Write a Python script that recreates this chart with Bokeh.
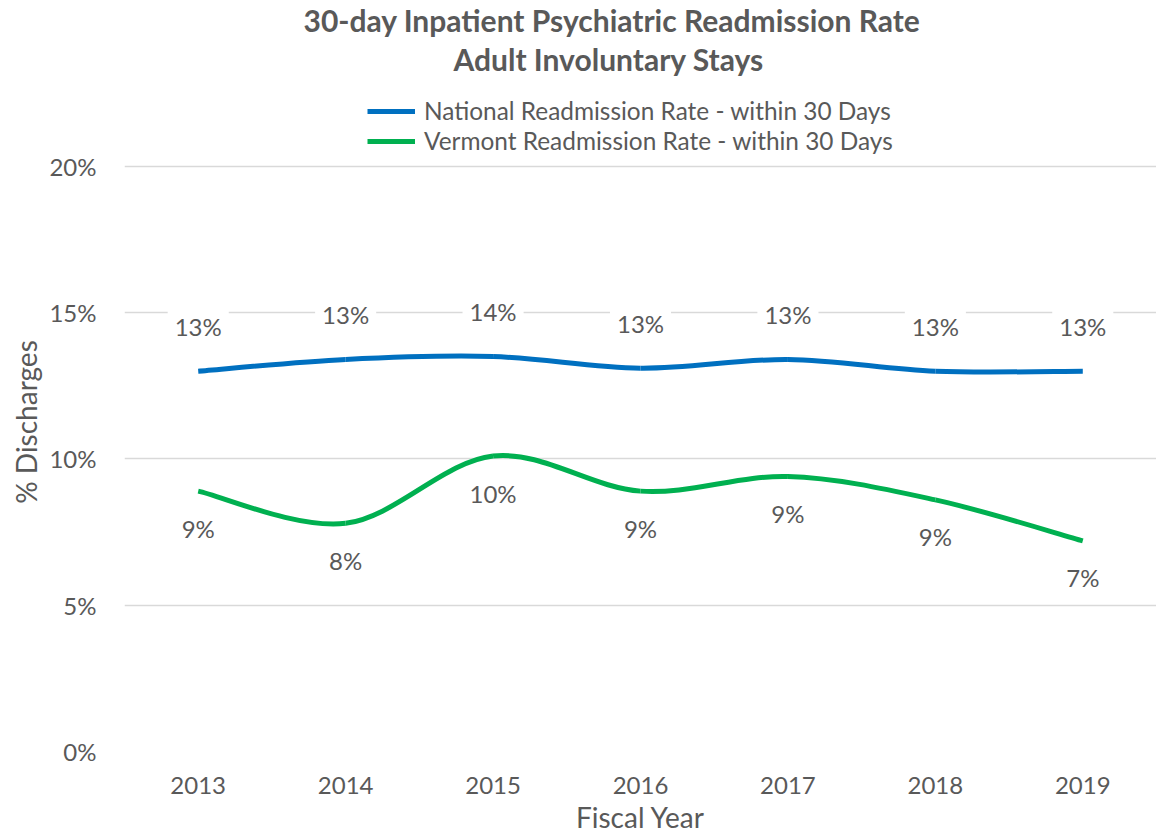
import numpy as np
from bokeh.plotting import figure
from bokeh.models import (Range1d, FixedTicker, PrintfTickFormatter, ColumnDataSource,
                          Legend, LegendItem, Title)
from bokeh.embed import file_html
from bokeh.resources import INLINE

# ---------------- data ----------------
years = [2013, 2014, 2015, 2016, 2017, 2018, 2019]
national = [13.0, 13.4, 13.5, 13.1, 13.4, 13.0, 13.0]
vermont = [8.9, 7.8, 10.1, 8.9, 9.4, 8.6, 7.2]
y_ticks = [0, 5, 10, 15, 20]
series_names = ["National Readmission Rate - within 30 Days",
                "Vermont Readmission Rate - within 30 Days"]
title_lines = ["30-day Inpatient Psychiatric Readmission Rate", "Adult Involuntary Stays"]

BLUE = "#0070C0"
GREEN = "#00B050"
GREY = "#595959"
FONT = "Lato"

# ---------------- layout (pixels) ----------------
W, H = 1156, 836
FRAME_LEFT = 124
FRAME_TOP = 92          # frame extends up to hold the legend
TOP_GRID = 166          # where the top tick line sits
FRAME_BOTTOM = 752
y_top = y_ticks[-1] * (FRAME_BOTTOM - FRAME_TOP) / (FRAME_BOTTOM - TOP_GRID)


def pct(v):
    return f"{int(v + 0.5)}%"


def smooth_segments(xs, ys):
    """Cubic Bezier control points (Excel-like smoothed line) from the data points."""
    xs = np.asarray(xs, float)
    ys = np.asarray(ys, float)
    n = len(xs)
    xp = np.concatenate([[xs[0]], xs, [xs[-1]]])
    yp = np.concatenate([[ys[0]], ys, [ys[-1]]])
    return dict(
        x0=xs[:-1], y0=ys[:-1], x1=xs[1:], y1=ys[1:],
        cx0=xp[1:n] + (xp[2:n + 1] - xp[0:n - 1]) / 6.0,
        cy0=yp[1:n] + (yp[2:n + 1] - yp[0:n - 1]) / 6.0,
        cx1=xp[2:n + 1] - (xp[3:n + 2] - xp[1:n]) / 6.0,
        cy1=yp[2:n + 1] - (yp[3:n + 2] - yp[1:n]) / 6.0,
    )


p = figure(width=W, height=H, output_backend="svg", toolbar_location=None,
           title_location=None,
           x_range=Range1d(years[0] - 0.5, years[-1] + 0.5), y_range=Range1d(0, y_top),
           min_border_left=FRAME_LEFT, min_border_right=0, min_border_top=FRAME_TOP,
           min_border_bottom=H - FRAME_BOTTOM)
p.outline_line_color = None
p.background_fill_color = "white"
p.border_fill_color = "white"

src_nat = ColumnDataSource(smooth_segments(years, national))
src_ver = ColumnDataSource(smooth_segments(years, vermont))
r_nat = p.bezier(x0="x0", y0="y0", x1="x1", y1="y1", cx0="cx0", cy0="cy0", cx1="cx1", cy1="cy1",
                 source=src_nat, line_color=BLUE, line_width=5)
r_ver = p.bezier(x0="x0", y0="y0", x1="x1", y1="y1", cx0="cx0", cy0="cy0", cx1="cx1", cy1="cy1",
                 source=src_ver, line_color=GREEN, line_width=5)

# data labels
lab_nat = ColumnDataSource(dict(x=years, y=national, t=[pct(v) for v in national]))
lab_ver = ColumnDataSource(dict(x=years, y=vermont, t=[pct(v) for v in vermont]))
p.text(x="x", y="y", text="t", source=lab_nat, y_offset=-45, text_align="center",
       text_baseline="middle", text_font_size="24px", text_color=GREY, text_font={"value": FONT},
       background_fill_color="white", padding=7)
p.text(x="x", y="y", text="t", source=lab_ver, y_offset=37, text_align="center",
       text_baseline="middle", text_font_size="24px", text_color=GREY, text_font={"value": FONT},
       background_fill_color="white", padding=7)

# axes
p.yaxis.ticker = FixedTicker(ticks=y_ticks)
p.yaxis.formatter = PrintfTickFormatter(format="%d%%")
p.xaxis.ticker = FixedTicker(ticks=years)
for ax in (p.xaxis[0], p.yaxis[0]):
    ax.axis_line_color = None
    ax.major_tick_line_color = None
    ax.minor_tick_line_color = None
    ax.major_label_text_font = FONT
    ax.major_label_text_font_size = "24px"
    ax.major_label_text_color = GREY
    ax.axis_label_text_font = FONT
    ax.axis_label_text_font_size = "28px"
    ax.axis_label_text_font_style = "normal"
    ax.axis_label_text_color = GREY
p.yaxis.axis_label = "% Discharges"
p.xaxis.axis_label = "Fiscal Year"
p.yaxis.major_label_standoff = 22
p.yaxis.axis_label_standoff = 3
p.xaxis.major_label_standoff = 19
p.xaxis.axis_label_standoff = 3
p.xgrid.grid_line_color = None
p.ygrid.grid_line_color = "#D9D9D9"
p.ygrid.grid_line_width = 1.5

legend = Legend(items=[LegendItem(label=series_names[0], renderers=[r_nat]),
                       LegendItem(label=series_names[1], renderers=[r_ver])],
                location=(243, 596), orientation="vertical",
                border_line_color=None, background_fill_alpha=0,
                label_text_font=FONT, label_text_font_size="24.4px", label_text_color=GREY,
                glyph_width=48, glyph_height=26, label_height=26, spacing=1,
                padding=0, margin=0, label_standoff=9)
p.add_layout(legend, "center")

# two-line chart title
p.add_layout(Title(text=title_lines[1], align="left", offset=329, text_font=FONT,
                   text_font_size="30px", text_font_style="bold", text_color=GREY, standoff=31), "above")
p.add_layout(Title(text=title_lines[0], align="left", offset=179, text_font=FONT,
                   text_font_size="30px", text_font_style="bold", text_color=GREY, standoff=-29), "above")

open("out.html", "w").write(file_html(p, INLINE))
